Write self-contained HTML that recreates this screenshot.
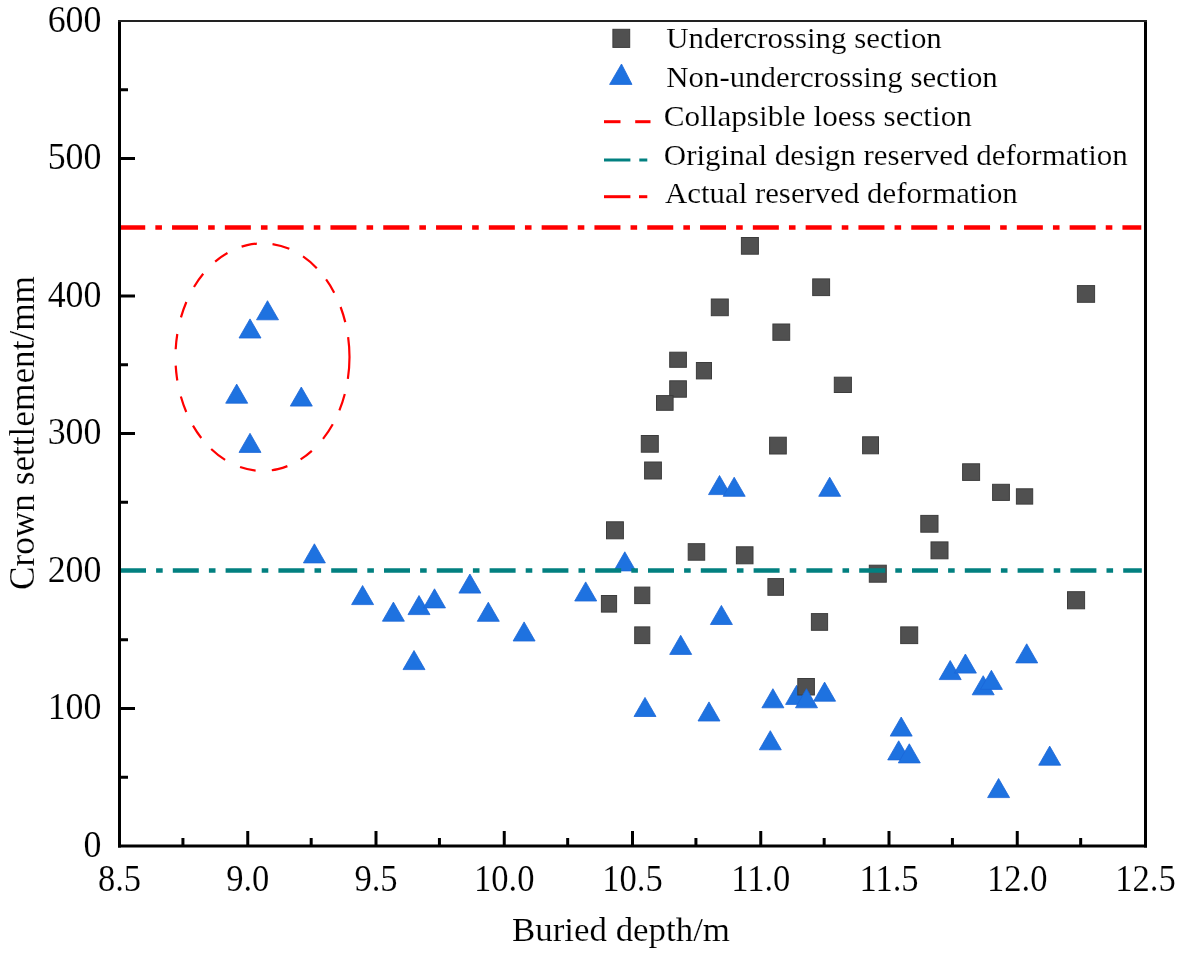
<!DOCTYPE html>
<html><head><meta charset="utf-8"><style>
html,body{margin:0;padding:0;background:#fff;width:1180px;height:957px;overflow:hidden}
svg{display:block;will-change:transform}
text{font-family:"Liberation Serif",serif;stroke:#fff;stroke-width:0.15px}
</style></head><body>
<svg width="1180" height="957" viewBox="0 0 1180 957">
<rect width="1180" height="957" fill="#fff"/>
<g fill="#1e72e0" stroke="#1a66d8" stroke-width="0.8"><polygon points="796.6,685.3 785.6,704.4 807.6,704.4"/></g>
<g fill="#505050" stroke="#3c3c3c" stroke-width="1"><rect x="741.4" y="237.5" width="17.0" height="16.7"/><rect x="711.3" y="299.0" width="17.0" height="16.7"/><rect x="772.9" y="324.0" width="16.8" height="16.3"/><rect x="669.7" y="352.2" width="16.7" height="15.1"/><rect x="696.4" y="362.5" width="15.1" height="16.4"/><rect x="669.7" y="380.8" width="16.7" height="16.4"/><rect x="656.5" y="395.6" width="16.6" height="14.7"/><rect x="812.7" y="278.9" width="16.9" height="16.7"/><rect x="834.3" y="377.2" width="17.1" height="15.3"/><rect x="862.6" y="436.8" width="15.9" height="17.0"/><rect x="769.6" y="437.2" width="16.7" height="16.8"/><rect x="1077.4" y="285.6" width="17.2" height="16.7"/><rect x="641.3" y="435.5" width="17.0" height="16.7"/><rect x="644.6" y="462.0" width="16.8" height="17.0"/><rect x="962.6" y="463.8" width="17.0" height="16.6"/><rect x="992.6" y="484.3" width="16.8" height="16.1"/><rect x="1016.4" y="488.8" width="16.3" height="15.3"/><rect x="920.8" y="515.4" width="17.2" height="16.8"/><rect x="931.0" y="541.9" width="17.0" height="16.9"/><rect x="869.3" y="565.2" width="17.0" height="17.0"/><rect x="1067.5" y="591.7" width="17.1" height="17.1"/><rect x="900.7" y="626.9" width="17.0" height="16.7"/><rect x="811.4" y="613.6" width="16.2" height="16.7"/><rect x="797.8" y="678.5" width="16.6" height="16.5"/><rect x="767.9" y="578.6" width="15.6" height="16.7"/><rect x="736.4" y="546.8" width="16.6" height="17.0"/><rect x="688.2" y="543.7" width="16.5" height="16.5"/><rect x="606.5" y="521.8" width="16.9" height="17.0"/><rect x="634.7" y="587.1" width="15.1" height="16.5"/><rect x="601.4" y="595.5" width="15.2" height="16.6"/><rect x="634.7" y="626.9" width="15.1" height="16.7"/></g>
<g fill="#1e72e0" stroke="#1a66d8" stroke-width="0.8" stroke-linejoin="miter"><polygon points="267.5,300.7 256.5,319.8 278.5,319.8"/><polygon points="250.0,318.9 239.0,338.0 261.0,338.0"/><polygon points="236.7,384.1 225.7,403.2 247.7,403.2"/><polygon points="301.3,387.0 290.3,406.1 312.3,406.1"/><polygon points="250.0,433.3 239.0,452.4 261.0,452.4"/><polygon points="314.4,543.8 303.4,562.9 325.4,562.9"/><polygon points="362.6,585.5 351.6,604.6 373.6,604.6"/><polygon points="393.4,602.1 382.4,621.2 404.4,621.2"/><polygon points="419.0,595.5 408.0,614.6 430.0,614.6"/><polygon points="434.5,588.8 423.5,607.9 445.5,607.9"/><polygon points="469.9,574.0 458.9,593.1 480.9,593.1"/><polygon points="488.3,602.2 477.3,621.3 499.3,621.3"/><polygon points="524.1,621.9 513.1,641.0 535.1,641.0"/><polygon points="414.0,650.5 403.0,669.6 425.0,669.6"/><polygon points="585.7,581.9 574.7,601.0 596.7,601.0"/><polygon points="624.8,551.8 613.8,570.9 635.8,570.9"/><polygon points="645.0,697.4 634.0,716.5 656.0,716.5"/><polygon points="680.7,635.3 669.7,654.4 691.7,654.4"/><polygon points="709.0,701.9 698.0,721.0 720.0,721.0"/><polygon points="721.4,605.4 710.4,624.5 732.4,624.5"/><polygon points="719.5,475.5 708.5,494.6 730.5,494.6"/><polygon points="734.2,477.2 723.2,496.3 745.2,496.3"/><polygon points="829.7,477.2 818.7,496.3 840.7,496.3"/><polygon points="772.9,688.7 761.9,707.8 783.9,707.8"/><polygon points="806.5,688.7 795.5,707.8 817.5,707.8"/><polygon points="824.6,682.1 813.6,701.2 835.6,701.2"/><polygon points="770.3,730.7 759.3,749.8 781.3,749.8"/><polygon points="950.2,660.5 939.2,679.6 961.2,679.6"/><polygon points="965.4,654.0 954.4,673.1 976.4,673.1"/><polygon points="983.2,675.7 972.2,694.8 994.2,694.8"/><polygon points="991.4,670.3 980.4,689.4 1002.4,689.4"/><polygon points="1026.7,643.8 1015.7,662.9 1037.7,662.9"/><polygon points="901.2,717.0 890.2,736.1 912.2,736.1"/><polygon points="898.7,740.8 887.7,759.9 909.7,759.9"/><polygon points="909.3,743.8 898.3,762.9 920.3,762.9"/><polygon points="1049.7,746.1 1038.7,765.2 1060.7,765.2"/><polygon points="998.6,778.5 987.6,797.6 1009.6,797.6"/></g>
<g stroke="#000" fill="none">
<line x1="182.93" y1="845" x2="182.93" y2="838" stroke-width="3"/>
<line x1="247.75" y1="845" x2="247.75" y2="831" stroke-width="3"/>
<line x1="311.18" y1="845" x2="311.18" y2="838" stroke-width="3"/>
<line x1="376.00" y1="845" x2="376.00" y2="831" stroke-width="3"/>
<line x1="439.43" y1="845" x2="439.43" y2="838" stroke-width="3"/>
<line x1="504.25" y1="845" x2="504.25" y2="831" stroke-width="3"/>
<line x1="567.67" y1="845" x2="567.67" y2="838" stroke-width="3"/>
<line x1="632.50" y1="845" x2="632.50" y2="831" stroke-width="3"/>
<line x1="695.92" y1="845" x2="695.92" y2="838" stroke-width="3"/>
<line x1="760.75" y1="845" x2="760.75" y2="831" stroke-width="3"/>
<line x1="824.17" y1="845" x2="824.17" y2="838" stroke-width="3"/>
<line x1="889.00" y1="845" x2="889.00" y2="831" stroke-width="3"/>
<line x1="952.42" y1="845" x2="952.42" y2="838" stroke-width="3"/>
<line x1="1017.25" y1="845" x2="1017.25" y2="831" stroke-width="3"/>
<line x1="1080.67" y1="845" x2="1080.67" y2="838" stroke-width="3"/>
<line x1="121" y1="777.25" x2="128" y2="777.25" stroke-width="3"/>
<line x1="121" y1="708.50" x2="135" y2="708.50" stroke-width="3"/>
<line x1="121" y1="639.75" x2="128" y2="639.75" stroke-width="3"/>
<line x1="121" y1="502.25" x2="128" y2="502.25" stroke-width="3"/>
<line x1="121" y1="433.50" x2="135" y2="433.50" stroke-width="3"/>
<line x1="121" y1="364.75" x2="128" y2="364.75" stroke-width="3"/>
<line x1="121" y1="296.00" x2="135" y2="296.00" stroke-width="3"/>
<line x1="121" y1="158.50" x2="135" y2="158.50" stroke-width="3"/>
<line x1="121" y1="89.75" x2="128" y2="89.75" stroke-width="3"/>
</g>
<line x1="119.24" y1="227.5" x2="1141.3" y2="227.5" stroke="#ff0000" stroke-width="4.4" stroke-dasharray="26.0 10.1 6.6 10.1"/>
<line x1="120.0" y1="570.5" x2="1141.8" y2="570.5" stroke="#028080" stroke-width="4.4" stroke-dasharray="26.0 10.1 6.6 10.1"/>
<path d="M348.13,337.08 A87.01,113.8 0 0 1 277.79,469.13 A87.01,113.8 0 0 1 176.83,377.14 A87.01,113.8 0 0 1 247.17,245.09 A87.01,113.8 0 0 1 348.13,337.08" fill="none" stroke="#ff0000" stroke-width="2.2" stroke-dasharray="42.0 15.3 17.2 15.3 17.6 16.4 14.2 14.8 16.3 16.1 16.0 16.6 17.7 14.8 14.9 15.1 16.4 16.3 15.2 16.4 15.2 17.0 16.2 16.8 16.2 17.0 15.1 15.5 15.7 15.6 17.5 15.7 18.2 14.5 15.5 15.6 15.8 15.6"/>
<g stroke="#000" fill="none">
<line x1="119.5" y1="20" x2="119.5" y2="847.5" stroke-width="3"/>
<line x1="118" y1="846" x2="1147" y2="846" stroke-width="3"/>
<line x1="1145.5" y1="20" x2="1145.5" y2="847.5" stroke-width="3"/>
<line x1="118" y1="21" x2="1147" y2="21" stroke-width="2" stroke="#222"/>
</g>
<g font-family="Liberation Serif, serif" font-size="37" fill="#000">
<text x="101.5" y="856.6" text-anchor="end" transform="translate(101.5 0) scale(0.97 1) translate(-101.5 0)">0</text>
<text x="101.5" y="719.1" text-anchor="end" transform="translate(101.5 0) scale(0.97 1) translate(-101.5 0)">100</text>
<text x="101.5" y="581.6" text-anchor="end" transform="translate(101.5 0) scale(0.97 1) translate(-101.5 0)">200</text>
<text x="101.5" y="444.1" text-anchor="end" transform="translate(101.5 0) scale(0.97 1) translate(-101.5 0)">300</text>
<text x="101.5" y="306.6" text-anchor="end" transform="translate(101.5 0) scale(0.97 1) translate(-101.5 0)">400</text>
<text x="101.5" y="169.1" text-anchor="end" transform="translate(101.5 0) scale(0.97 1) translate(-101.5 0)">500</text>
<text x="101.5" y="31.6" text-anchor="end" transform="translate(101.5 0) scale(0.97 1) translate(-101.5 0)">600</text>
<text x="119.5" y="891" text-anchor="middle" transform="translate(119.5 0) scale(0.935 1) translate(-119.5 0)">8.5</text>
<text x="247.8" y="891" text-anchor="middle" transform="translate(247.8 0) scale(0.935 1) translate(-247.8 0)">9.0</text>
<text x="376.0" y="891" text-anchor="middle" transform="translate(376.0 0) scale(0.935 1) translate(-376.0 0)">9.5</text>
<text x="504.2" y="891" text-anchor="middle" transform="translate(504.2 0) scale(0.935 1) translate(-504.2 0)">10.0</text>
<text x="632.5" y="891" text-anchor="middle" transform="translate(632.5 0) scale(0.935 1) translate(-632.5 0)">10.5</text>
<text x="760.8" y="891" text-anchor="middle" transform="translate(760.8 0) scale(0.935 1) translate(-760.8 0)">11.0</text>
<text x="889.0" y="891" text-anchor="middle" transform="translate(889.0 0) scale(0.935 1) translate(-889.0 0)">11.5</text>
<text x="1017.2" y="891" text-anchor="middle" transform="translate(1017.2 0) scale(0.935 1) translate(-1017.2 0)">12.0</text>
<text x="1145.5" y="891" text-anchor="middle" transform="translate(1145.5 0) scale(0.935 1) translate(-1145.5 0)">12.5</text>
</g>
<text font-family="Liberation Serif, serif" font-size="34" x="512" y="941" textLength="218" lengthAdjust="spacingAndGlyphs">Buried depth/m</text>
<text font-family="Liberation Serif, serif" font-size="35" transform="translate(33.5 590) rotate(-90)" x="0" y="0" textLength="314" lengthAdjust="spacingAndGlyphs">Crown settlement/mm</text>
<rect x="612.9" y="29.3" width="16.8" height="18.1" fill="#505050" stroke="#3c3c3c"/>
<polygon points="621.5,64 609.6,84.4 632.0,84.4" fill="#1e72e0" stroke="#1a66d8" stroke-width="0.8"/>
<line x1="604" y1="121.7" x2="620.5" y2="121.7" stroke="#ff0000" stroke-width="3"/><line x1="635.2" y1="121.7" x2="650.5" y2="121.7" stroke="#ff0000" stroke-width="3"/>
<line x1="604" y1="160" x2="630.4" y2="160" stroke="#028080" stroke-width="3"/><line x1="639.3" y1="160" x2="647.3" y2="160" stroke="#028080" stroke-width="3"/>
<line x1="604" y1="196.7" x2="630.4" y2="196.7" stroke="#ff0000" stroke-width="3"/><line x1="639" y1="196.7" x2="647.3" y2="196.7" stroke="#ff0000" stroke-width="3"/>
<text font-family="Liberation Serif, serif" font-size="29" x="666.3" y="48.2" textLength="275.5" lengthAdjust="spacingAndGlyphs">Undercrossing section</text>
<text font-family="Liberation Serif, serif" font-size="29" x="666.3" y="87.2" textLength="331.5" lengthAdjust="spacingAndGlyphs">Non-undercrossing section</text>
<text font-family="Liberation Serif, serif" font-size="29" x="663.8" y="126" textLength="308" lengthAdjust="spacingAndGlyphs">Collapsible loess section</text>
<text font-family="Liberation Serif, serif" font-size="29" x="663.8" y="164.7" textLength="464" lengthAdjust="spacingAndGlyphs">Original design reserved deformation</text>
<text font-family="Liberation Serif, serif" font-size="29" x="665" y="202.8" textLength="352.8" lengthAdjust="spacingAndGlyphs">Actual reserved deformation</text>
</svg>
</body></html>
